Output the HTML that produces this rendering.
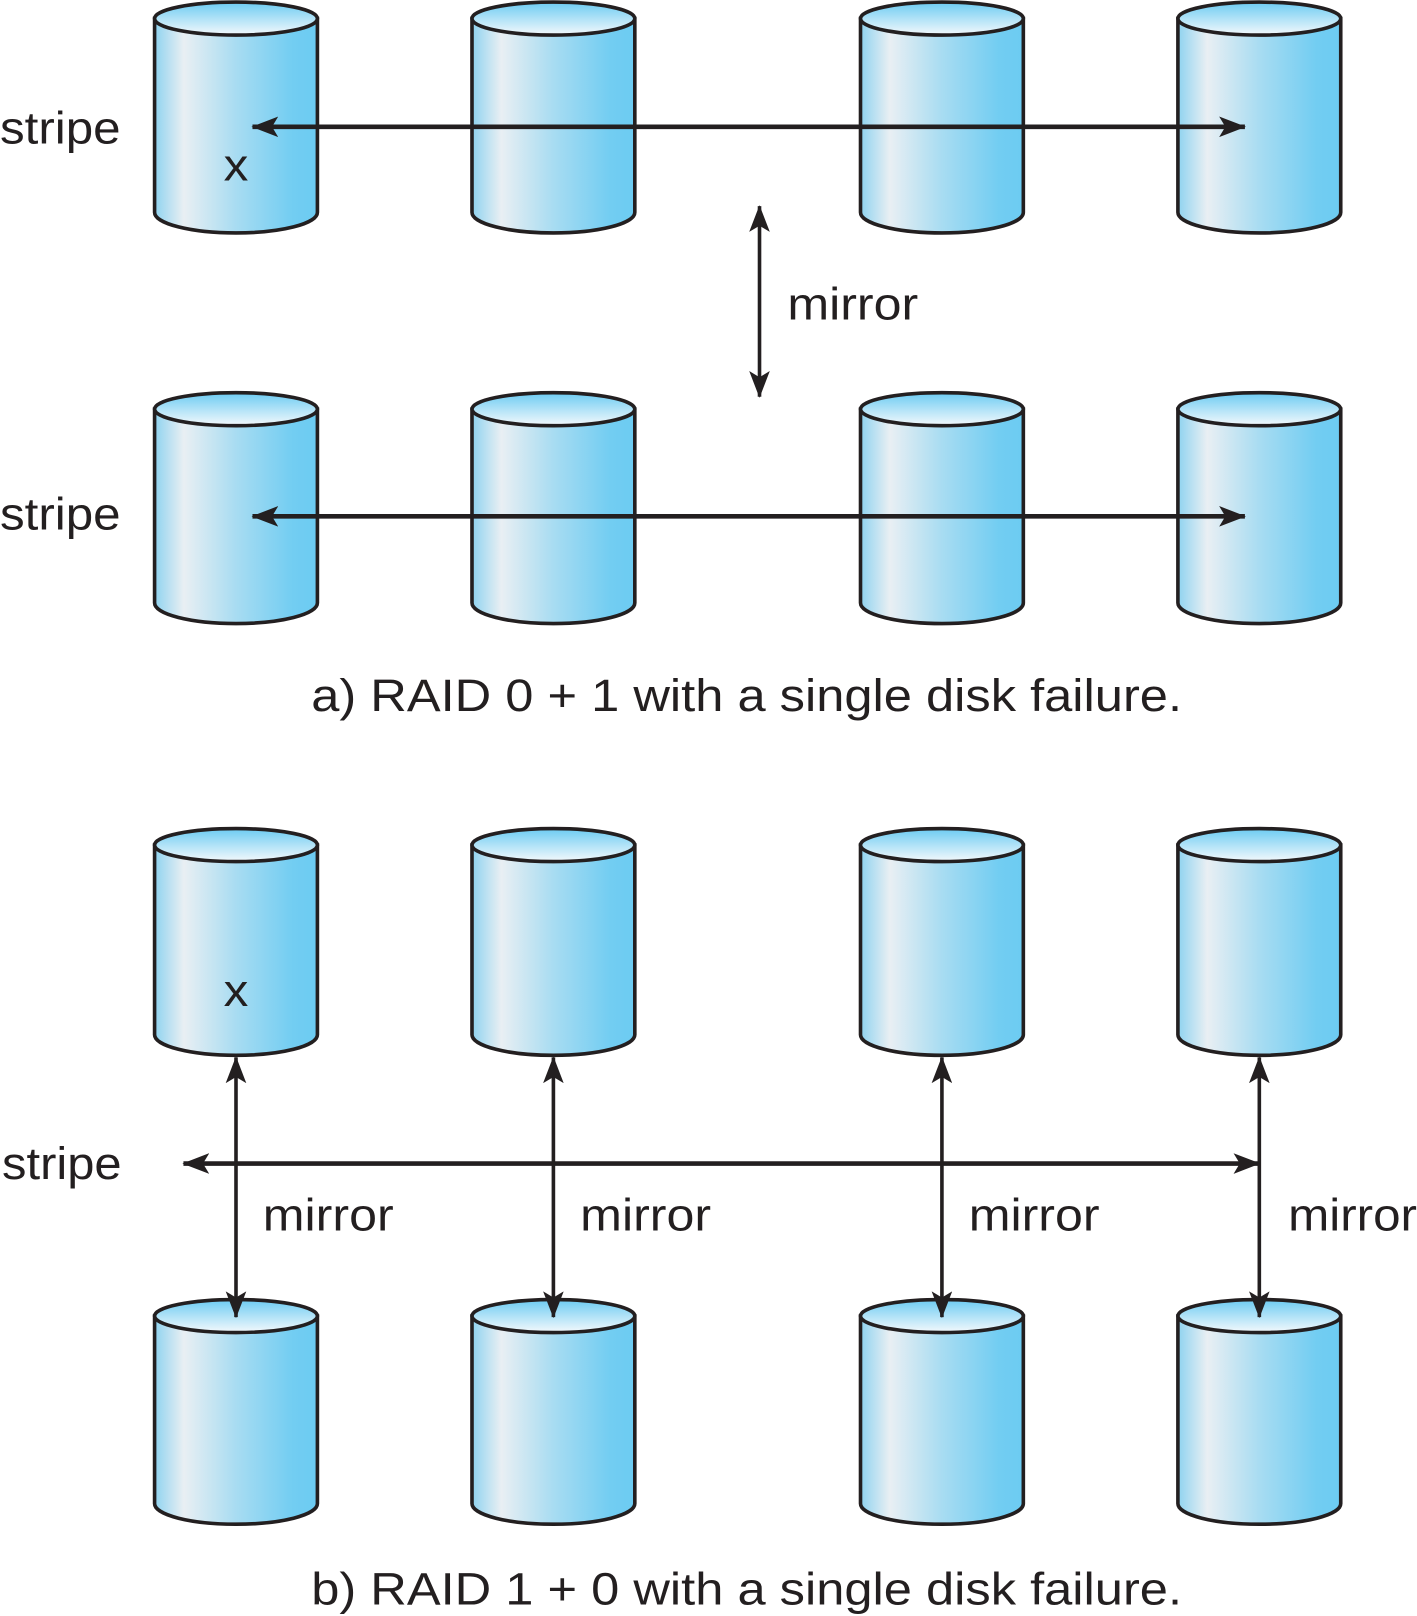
<!DOCTYPE html>
<html><head><meta charset="utf-8"><style>
html,body{margin:0;padding:0;background:#fff;}
svg{display:block;}
text{font-family:"Liberation Sans",sans-serif;fill:#231f20;}
</style></head><body>
<svg width="1417" height="1616" viewBox="0 0 1375 1568" xmlns="http://www.w3.org/2000/svg">
<defs>
<linearGradient id="body" x1="0" y1="0" x2="1" y2="0">
<stop offset="0" stop-color="#8fd3f0"/>
<stop offset="0.18" stop-color="#e9eff3"/>
<stop offset="0.5" stop-color="#a8dcf2"/>
<stop offset="0.85" stop-color="#72cdf2"/>
<stop offset="1" stop-color="#6ccbf2"/>
</linearGradient>
<linearGradient id="top" x1="0" y1="0" x2="0" y2="1">
<stop offset="0" stop-color="#6ccbf2"/>
<stop offset="1" stop-color="#f4f9fc"/>
</linearGradient>
<marker id="ah" viewBox="0 0 26 20" refX="25" refY="10" markerWidth="26" markerHeight="20" markerUnits="userSpaceOnUse" orient="auto-start-reverse">
<path d="M0,0 L26,10 L0,20 L6,10 Z" fill="#231f20"/>
</marker>
</defs>

<g stroke="#231f20" stroke-width="3.5">
<g id="r1">
<path d="M150,18 L150,206 A79,20 0 0 0 308,206 L308,18 Z" fill="url(#body)"/>
<ellipse cx="229" cy="18" rx="79" ry="16" fill="url(#top)"/>
</g>
<use href="#r1" x="308"/><use href="#r1" x="685"/><use href="#r1" x="993"/>
<use href="#r1" y="379"/><use href="#r1" x="308" y="379"/><use href="#r1" x="685" y="379"/><use href="#r1" x="993" y="379"/>
<g id="r3">
<path d="M150,820 L150,1004 A79,20 0 0 0 308,1004 L308,820 Z" fill="url(#body)"/>
<ellipse cx="229" cy="820" rx="79" ry="16" fill="url(#top)"/>
</g>
<use href="#r3" x="308"/><use href="#r3" x="685"/><use href="#r3" x="993"/>
<g id="r4">
<path d="M150,1277 L150,1459 A79,20 0 0 0 308,1459 L308,1277 Z" fill="url(#body)"/>
<ellipse cx="229" cy="1277" rx="79" ry="16" fill="url(#top)"/>
</g>
<use href="#r4" x="308"/><use href="#r4" x="685"/><use href="#r4" x="993"/>
</g>

<g stroke="#231f20" fill="none">
<line x1="245" y1="123" x2="1208" y2="123" stroke-width="4.5" marker-start="url(#ah)" marker-end="url(#ah)"/>
<line x1="245" y1="501" x2="1208" y2="501" stroke-width="4.5" marker-start="url(#ah)" marker-end="url(#ah)"/>
<line x1="737" y1="200" x2="737" y2="385" stroke-width="3.5" marker-start="url(#ah)" marker-end="url(#ah)"/>
<line x1="178" y1="1129" x2="1222" y2="1129" stroke-width="4.5" marker-start="url(#ah)" marker-end="url(#ah)"/>
<line x1="229" y1="1026" x2="229" y2="1278" stroke-width="3.5" marker-start="url(#ah)" marker-end="url(#ah)"/>
<line x1="537" y1="1026" x2="537" y2="1278" stroke-width="3.5" marker-start="url(#ah)" marker-end="url(#ah)"/>
<line x1="914" y1="1026" x2="914" y2="1278" stroke-width="3.5" marker-start="url(#ah)" marker-end="url(#ah)"/>
<line x1="1222" y1="1026" x2="1222" y2="1278" stroke-width="3.5" marker-start="url(#ah)" marker-end="url(#ah)"/>
</g>

<g font-size="44">
<text x="0" y="139" textLength="117" lengthAdjust="spacingAndGlyphs">stripe</text>
<text x="0" y="514" textLength="117" lengthAdjust="spacingAndGlyphs">stripe</text>
<text x="2" y="1144" textLength="116" lengthAdjust="spacingAndGlyphs">stripe</text>
<text x="217" y="175" textLength="24" lengthAdjust="spacingAndGlyphs">x</text>
<text x="217" y="976" textLength="24" lengthAdjust="spacingAndGlyphs">x</text>
<text x="764" y="310" textLength="127" lengthAdjust="spacingAndGlyphs">mirror</text>
<text x="255" y="1194" textLength="127" lengthAdjust="spacingAndGlyphs">mirror</text>
<text x="563" y="1194" textLength="127" lengthAdjust="spacingAndGlyphs">mirror</text>
<text x="940" y="1194" textLength="127" lengthAdjust="spacingAndGlyphs">mirror</text>
<text x="1250" y="1194" textLength="125" lengthAdjust="spacingAndGlyphs">mirror</text>
<text x="302" y="690" textLength="845" lengthAdjust="spacingAndGlyphs">a) RAID 0 + 1 with a single disk failure.</text>
<text x="302" y="1557" textLength="845" lengthAdjust="spacingAndGlyphs">b) RAID 1 + 0 with a single disk failure.</text>
</g>
</svg>
</body></html>
